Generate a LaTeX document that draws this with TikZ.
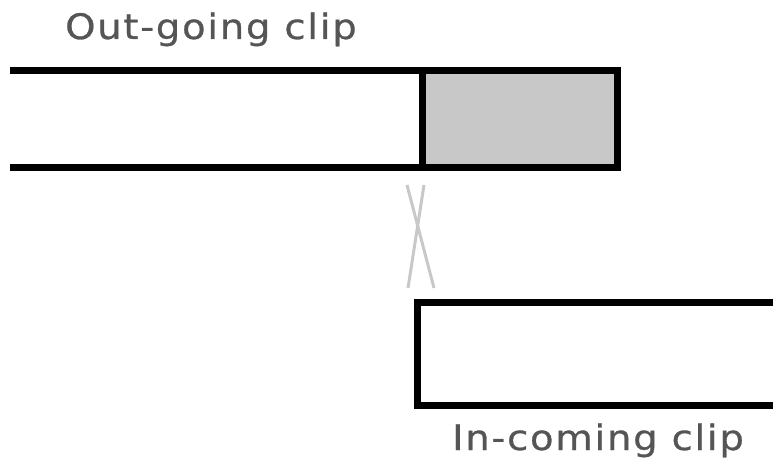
\documentclass[tikz,border=0pt]{standalone}
\usepackage{fontspec}
\newfontfamily\labelfont[LetterSpace=5,FakeStretch=1.1,FakeBold=0.8]{DejaVu Sans}
\definecolor{labelgray}{HTML}{555555}
\definecolor{clipfill}{HTML}{C8C8C8}
\definecolor{crossgray}{HTML}{C8C8C8}
\tikzset{
  clipedge/.style={draw=black, line width=7pt, line join=miter},
  crossline/.style={draw=crossgray, line width=3pt},
  cliplabel/.style={anchor=base west, inner sep=0pt, text=labelgray,
    font=\labelfont\fontsize{35}{40}\selectfont}
}
\begin{document}
\begin{tikzpicture}[x=1pt,y=-1pt]
\useasboundingbox (0,0) rectangle (773,470);
% out-going clip
\coordinate (otl) at (10,71);
\coordinate (otr) at (617,71);
\coordinate (obr) at (617,168);
\coordinate (obl) at (10,168);
\coordinate (omt) at (422,71);
\coordinate (omb) at (422,168);
\fill[clipfill] (omt) rectangle (obr);
\draw[clipedge] (otl) -- (otr) -- (obr) -- (obl);
\draw[clipedge] (omt) -- (omb);
% cross
\coordinate (c1a) at (407,185);
\coordinate (c1b) at (434,288);
\coordinate (c2a) at (424,185);
\coordinate (c2b) at (408,288);
\draw[crossline] (c1a) -- (c1b);
\draw[crossline] (c2a) -- (c2b);
% in-coming clip
\coordinate (itr) at (773,302);
\coordinate (itl) at (417,302);
\coordinate (ibl) at (417,405);
\coordinate (ibr) at (773,405);
\draw[clipedge] (itr) -- (itl) -- (ibl) -- (ibr);
% labels
\node[cliplabel] (outlabel) at (65,39) {Out-going clip};
\node[cliplabel] (inlabel) at (452,450) {In-coming clip};
\end{tikzpicture}
\end{document}
